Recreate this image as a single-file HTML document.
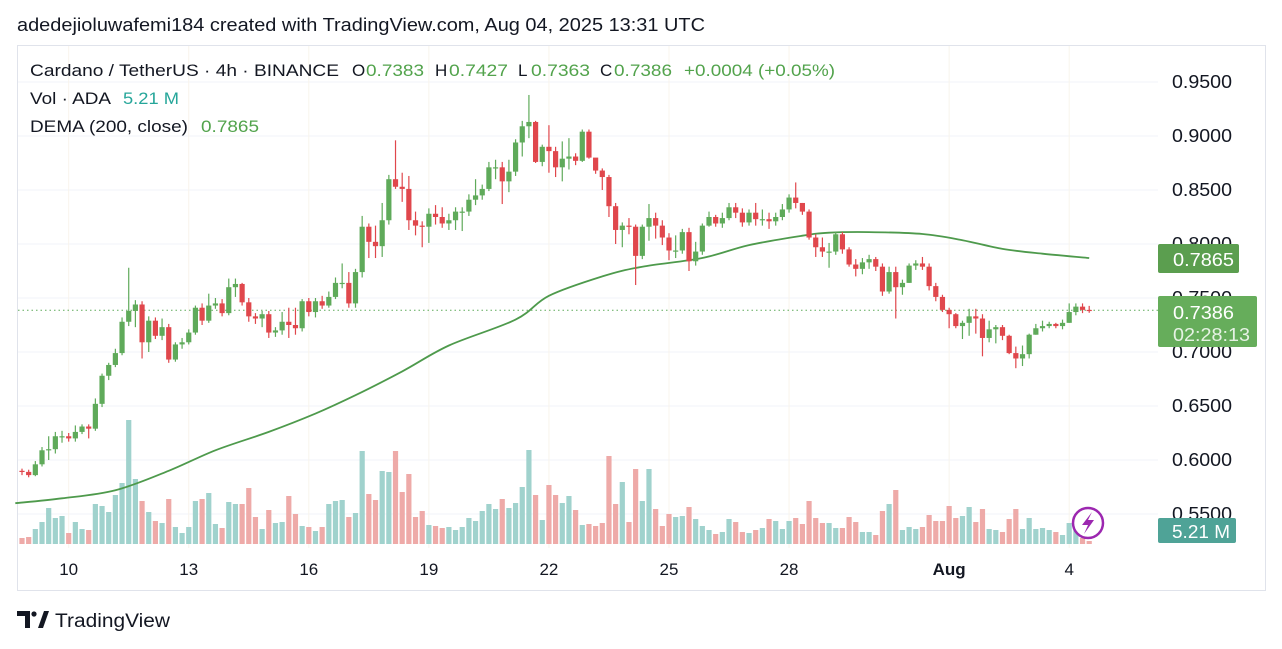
<!DOCTYPE html>
<html><head><meta charset="utf-8"><style>
body{margin:0;background:#fff;font-family:"Liberation Sans",sans-serif;}
svg{display:block}
</style></head><body>
<svg id="chart" width="1282" height="649" xmlns="http://www.w3.org/2000/svg" font-family="Liberation Sans, sans-serif">
<rect x="0" y="0" width="1282" height="649" fill="#fff"/>
<text x="17" y="31" font-size="18" fill="#131722" textLength="688" lengthAdjust="spacingAndGlyphs">adedejioluwafemi184 created with TradingView.com, Aug 04, 2025 13:31 UTC</text>
<rect x="17.5" y="45.5" width="1248" height="545" fill="none" stroke="#e0e3eb"/>
<g id="grid"></g>
<g id="vol"></g>
<g id="dema"></g>
<g id="candles"></g>
<g id="axes"></g>
<g font-size="17">
<text y="76" fill="#131722"><tspan x="30" textLength="309" lengthAdjust="spacingAndGlyphs">Cardano / TetherUS · 4h · BINANCE</tspan><tspan x="352">O</tspan><tspan x="366" fill="#52a34c" textLength="58" lengthAdjust="spacingAndGlyphs">0.7383</tspan><tspan x="435">H</tspan><tspan x="449" fill="#52a34c" textLength="59" lengthAdjust="spacingAndGlyphs">0.7427</tspan><tspan x="518">L</tspan><tspan x="531" fill="#52a34c" textLength="59" lengthAdjust="spacingAndGlyphs">0.7363</tspan><tspan x="600">C</tspan><tspan x="614" fill="#52a34c" textLength="58" lengthAdjust="spacingAndGlyphs">0.7386</tspan><tspan x="684" fill="#52a34c" textLength="151" lengthAdjust="spacingAndGlyphs">+0.0004 (+0.05%)</tspan></text>
<text y="104" fill="#131722"><tspan x="30" textLength="81" lengthAdjust="spacingAndGlyphs">Vol · ADA</tspan><tspan x="123" fill="#26a69a" textLength="56" lengthAdjust="spacingAndGlyphs">5.21 M</tspan></text>
<text y="132" fill="#131722"><tspan x="30" textLength="158" lengthAdjust="spacingAndGlyphs">DEMA (200, close)</tspan><tspan x="201" fill="#52a34c" textLength="58" lengthAdjust="spacingAndGlyphs">0.7865</tspan></text>
</g>
<g>
<rect x="1158" y="244" width="81" height="29" rx="2" fill="#5b9e4f"/>
<text x="1173" y="266" font-size="18" fill="#fff" textLength="61" lengthAdjust="spacingAndGlyphs">0.7865</text>
</g>
<g>
<rect x="1158" y="296" width="99" height="51" rx="2" fill="#66ad5b"/>
<text x="1173" y="319" font-size="18" fill="#fff" textLength="61" lengthAdjust="spacingAndGlyphs">0.7386</text>
<text x="1173" y="341" font-size="18" fill="#e6f2e4" textLength="77" lengthAdjust="spacingAndGlyphs">02:28:13</text>
</g>
<g>
<rect x="1158" y="518" width="78" height="25" rx="2" fill="#4fa397"/>
<text x="1172" y="538" font-size="18" fill="#fff" textLength="58" lengthAdjust="spacingAndGlyphs">5.21 M</text>
</g>
<g>
<circle cx="1088" cy="523" r="15" fill="#fff" stroke="#9c27b0" stroke-width="2.5"/>
<path d="M1092 512 L1082 525 L1088 525 L1084 534 L1094 520 L1088 520 Z" fill="#9c27b0"/>
</g>
<g>
<path d="M17 611 h13 v17 h-5 v-12 h-8 z" fill="#131722"/>
<circle cx="34" cy="614" r="2.6" fill="#131722"/>
<path d="M38 628 l6 -17 h5 l-6 17 z" fill="#131722"/>
<text x="55" y="627" font-size="19" fill="#131722" textLength="115" lengthAdjust="spacingAndGlyphs">TradingView</text>
</g>
</svg>
<script>
const closes=[
.589,.586,.596,.609,.610,.622,.622,.620,.626,.631,
.629,.652,.678,.688,.699,.728,.738,.744,.709,.729,
.715,.723,.693,.707,.709,.718,.741,.729,.743,.745,
.736,.760,.763,.746,.733,.731,.735,.718,.720,.728,
.725,.722,.747,.737,.747,.743,.751,.764,.764,.745,
.774,.816,.802,.798,.822,.860,.853,.851,.822,.817,
.816,.828,.825,.819,.822,.830,.830,.841,.845,.851,
.871,.871,.858,.867,.894,.909,.913,.876,.890,.886,
.871,.879,.881,.877,.904,.880,.868,.862,.835,.813,
.817,.816,.789,.816,.824,.817,.806,.794,.794,.811,
.784,.793,.817,.825,.819,.824,.834,.829,.820,.829,
.823,.823,.821,.825,.832,.843,.838,.830,.806,.797,
.793,.793,.809,.795,.781,.777,.783,.786,.779,.756,
.774,.760,.764,.780,.782,.779,.761,.751,.739,.735,
.724,.727,.733,.731,.713,.721,.723,.715,.699,.694,
.698,.716,.722,.724,.726,.724,.727,.737,.742,.739,
.7386];
const firstOpen=.590;
const highs=[
.592,.591,.599,.612,.622,.626,.627,.625,.632,.633,
.633,.657,.680,.690,.703,.732,.778,.748,.747,.733,
.732,.731,.726,.709,.713,.721,.743,.745,.754,.750,
.749,.768,.768,.764,.750,.736,.738,.738,.723,.737,
.741,.741,.749,.750,.750,.752,.756,.769,.782,.774,
.777,.826,.819,.817,.838,.864,.896,.866,.863,.830,
.821,.833,.836,.834,.828,.834,.834,.846,.860,.855,
.876,.878,.876,.878,.897,.914,.938,.914,.892,.910,
.890,.895,.898,.884,.906,.906,.876,.870,.864,.838,
.820,.824,.818,.818,.837,.829,.822,.810,.808,.814,
.815,.802,.819,.830,.827,.829,.838,.838,.833,.832,
.838,.832,.829,.829,.837,.846,.857,.838,.832,.809,
.806,.801,.811,.811,.797,.786,.787,.790,.788,.782,
.779,.779,.767,.782,.785,.788,.782,.764,.753,.741,
.736,.729,.740,.740,.735,.729,.725,.725,.716,.705,
.706,.717,.726,.729,.728,.727,.730,.745,.745,.745,
.7427];
const lows=[
.586,.584,.585,.594,.600,.606,.616,.617,.617,.624,
.620,.627,.649,.674,.686,.697,.724,.723,.694,.700,
.712,.711,.690,.691,.703,.707,.716,.725,.727,.740,
.733,.734,.751,.743,.728,.726,.723,.713,.714,.716,
.713,.716,.719,.733,.732,.740,.741,.749,.759,.741,
.741,.769,.787,.787,.788,.818,.851,.839,.813,.808,
.797,.801,.818,.815,.813,.813,.812,.826,.836,.841,
.849,.860,.837,.848,.863,.881,.898,.875,.872,.866,
.862,.858,.869,.873,.876,.879,.865,.850,.825,.800,
.797,.809,.762,.786,.803,.805,.799,.785,.787,.791,
.775,.780,.790,.816,.816,.815,.822,.824,.816,.817,
.817,.817,.814,.817,.822,.829,.833,.827,.804,.788,
.788,.778,.790,.791,.779,.770,.772,.777,.775,.752,
.754,.731,.753,.764,.776,.776,.757,.747,.737,.722,
.722,.712,.715,.717,.696,.709,.708,.711,.698,.685,
.687,.694,.716,.719,.722,.722,.721,.727,.734,.736,
.7363];
const volumes=[
6,7,15,22,36,26,28,11,22,15,14,40,38,32,49,61,124,65,43,32,
23,21,45,17,11,17,43,45,51,20,16,42,40,40,56,27,15,34,21,22,
48,30,18,17,13,
17,40,43,44,27,31,93,50,44,73,72,93,52,70,27,33,19,18,16,17,14,
17,26,23,33,40,35,45,36,41,57,94,49,24,59,49,41,48,34,19,20,
18,21,88,40,62,22,75,43,75,35,18,30,27,28,37,25,
18,14,10,12,25,22,12,11,14,16,25,23,15,23,26,20,43,26,21,21,
16,16,27,22,12,12,9,33,40,54,14,17,15,17,29,23,23,38,26,28,
37,22,35,15,14,12,25,35,15,26,15,16,14,12,9,21,14,6,3];
const demaIdx=[-1,6,14,22,29,37,44,50,57,64,74,79,87,93,102,109,117,121,127,135,141,147,153,160];
const demaVal=[.560,.5645,.572,.590,.609,.626,.643,.660,.682,.706,.730,.752,.770,.779,.787,.799,.8077,.8105,.811,.8093,.8035,.7955,.791,.787];
const priceTicks=[0.95,0.90,0.85,0.80,0.75,0.70,0.65,0.60,0.55];
const timeLabels=["10","13","16","19","22","25","28","Aug","4"];
const timeIdx=[7,25,43,61,79,97,115,139,157];

const NS="http://www.w3.org/2000/svg";
const xOf=i=>22+i*6.67;
const yOf=p=>82+(0.95-p)*1080;
const vH=v=>v;
const VBASE=544;
function mk(tag,attrs,parent){const e=document.createElementNS(NS,tag);for(const k in attrs)e.setAttribute(k,attrs[k]);parent.appendChild(e);return e;}
const grid=document.getElementById('grid'),vol=document.getElementById('vol'),dm=document.getElementById('dema'),cg=document.getElementById('candles'),ax=document.getElementById('axes');
priceTicks.forEach(p=>{const l=mk('line',{x1:18,x2:1158,y1:yOf(p),y2:yOf(p),stroke:'#f0f3fa','stroke-width':1},grid);


const t=mk('text',{x:1172,y:yOf(p)+6,'font-size':18,fill:'#131722',textLength:60,lengthAdjust:'spacingAndGlyphs'},ax);t.textContent=p.toFixed(4);

});
timeIdx.forEach((ix,k)=>{const l=mk('line',{x1:xOf(ix),x2:xOf(ix),y1:46,y2:548,stroke:'#f8f4ec','stroke-width':1},grid);


const t=mk('text',{x:xOf(ix),y:575,'font-size':17,fill:'#131722','text-anchor':'middle','font-weight':timeLabels[k]==='Aug'?'bold':'normal'},ax);t.textContent=timeLabels[k];

});
closes.forEach((c,i)=>{const o=i===0?firstOpen:closes[i-1];const up=c>=o;const x=xOf(i);
const vb=mk('rect',{x:x-2.6,y:VBASE-vH(volumes[i]),width:5.2,height:vH(volumes[i]),fill:up?'#a0d2cd':'#eeaaa8'},vol);


const col=up?'#5faa5a':'#e0474c';
const w=mk('line',{x1:x,x2:x,y1:yOf(highs[i]),y2:yOf(lows[i]),stroke:col,'stroke-width':1.2},cg);


const top=yOf(Math.max(o,c)),bot=yOf(Math.min(o,c));
const b=mk('rect',{x:x-2.6,y:top,width:5.2,height:Math.max(1.2,bot-top),fill:col},cg);

});
// smooth Catmull-Rom curve through DEMA samples
const pts=demaIdx.map((ix,k)=>[xOf(ix),yOf(demaVal[k])]);
let d='M'+pts[0][0].toFixed(1)+' '+pts[0][1].toFixed(1);
for(let k=0;k<pts.length-1;k++){const p0=pts[Math.max(0,k-1)],p1=pts[k],p2=pts[k+1],p3=pts[Math.min(pts.length-1,k+2)];
const c1=[p1[0]+(p2[0]-p0[0])/6,p1[1]+(p2[1]-p0[1])/6],c2=[p2[0]-(p3[0]-p1[0])/6,p2[1]-(p3[1]-p1[1])/6];
d+=' C'+c1[0].toFixed(1)+' '+c1[1].toFixed(1)+' '+c2[0].toFixed(1)+' '+c2[1].toFixed(1)+' '+p2[0].toFixed(1)+' '+p2[1].toFixed(1);}
const pl=mk('path',{d:d,fill:'none',stroke:'#4e9a4c','stroke-width':1.8,'stroke-linejoin':'round'},dm);


const lp=closes[closes.length-1];
const dl=mk('line',{x1:18,x2:1158,y1:yOf(lp),y2:yOf(lp),stroke:'#5faa5a','stroke-width':1,'stroke-dasharray':'1.5 3'},grid);


</script>
</body></html>
